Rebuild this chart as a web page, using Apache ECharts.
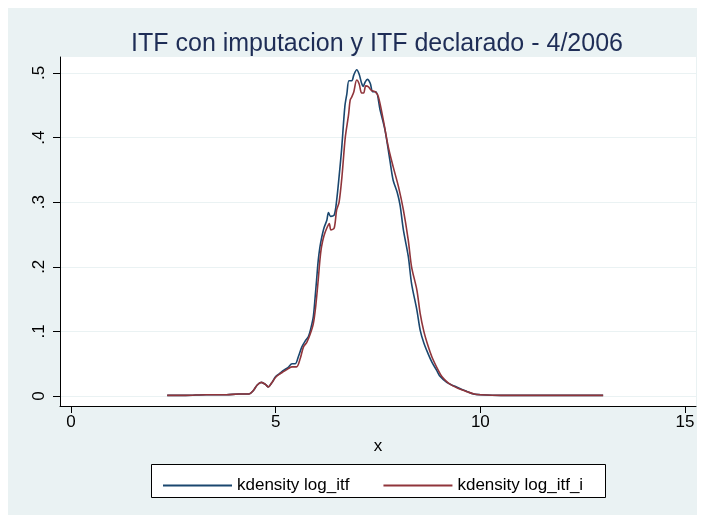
<!DOCTYPE html>
<html>
<head>
<meta charset="utf-8">
<script src="https://cdn.jsdelivr.net/npm/echarts@6/dist/echarts.min.js"></script>
<style>
  html, body { margin: 0; padding: 0; background: #ffffff; }
  #chart { width: 703px; height: 515px; }
</style>
</head>
<body>
<div id="chart"></div>
<script>
// Kernel density estimates of log household income (two variants)
const logItfX = [2.35, 2.8, 3.3, 3.8, 4.1, 4.35, 4.45, 4.55, 4.65, 4.75, 4.82, 4.9, 5.0, 5.1, 5.2, 5.3, 5.4, 5.48, 5.56, 5.64,
  5.72, 5.8, 5.86, 5.92, 5.96, 6.0, 6.04, 6.08, 6.12, 6.18, 6.25, 6.29, 6.34, 6.43, 6.49, 6.55, 6.61, 6.69, 6.74, 6.79,
  6.86, 6.91, 6.98, 7.04, 7.10, 7.14, 7.18, 7.24, 7.31, 7.37, 7.45, 7.55, 7.67, 7.79, 7.87, 7.97, 8.04, 8.12, 8.24, 8.32,
  8.45, 8.53, 8.62, 8.72, 8.82, 8.93, 9.02, 9.18, 9.3, 9.42, 9.55, 9.67, 9.83, 10.0, 10.5, 11, 11.5, 12, 12.5, 13.0];
const logItfY = [0.001, 0.001, 0.002, 0.002, 0.003, 0.003, 0.008, 0.017, 0.021, 0.018, 0.014, 0.02, 0.03, 0.035, 0.04, 0.044, 0.05, 0.05, 0.062, 0.076,
  0.085, 0.092, 0.105, 0.123, 0.15, 0.18, 0.21, 0.23, 0.244, 0.26, 0.272, 0.284, 0.278, 0.28, 0.303, 0.34, 0.381, 0.448, 0.468, 0.488,
  0.488, 0.497, 0.505, 0.498, 0.484, 0.479, 0.485, 0.49, 0.484, 0.471, 0.471, 0.443, 0.412, 0.365, 0.334, 0.315, 0.295, 0.257, 0.216, 0.174,
  0.133, 0.102, 0.082, 0.066, 0.052, 0.040, 0.030, 0.021, 0.017, 0.014, 0.010, 0.007, 0.003, 0.002, 0.001, 0.001, 0.001, 0.001, 0.001, 0.001];

const logItfIX = [2.35, 2.8, 3.3, 3.8, 4.1, 4.35, 4.45, 4.55, 4.65, 4.75, 4.82, 4.9, 5.0, 5.1, 5.2, 5.3, 5.4, 5.51, 5.6, 5.68,
  5.76, 5.84, 5.92, 5.98, 6.04, 6.08, 6.12, 6.18, 6.25, 6.31, 6.35, 6.43, 6.49, 6.55, 6.62, 6.70, 6.78, 6.82, 6.86, 6.91,
  6.98, 7.04, 7.10, 7.15, 7.20, 7.26, 7.34, 7.43, 7.51, 7.63, 7.75, 7.87, 8.0, 8.12, 8.24, 8.32, 8.45, 8.53, 8.62, 8.72,
  8.82, 8.97, 9.06, 9.2, 9.32, 9.45, 9.58, 9.7, 9.85, 10.0, 10.5, 11, 11.5, 12, 12.5, 13.0];
const logItfIY = [0.001, 0.001, 0.002, 0.002, 0.003, 0.003, 0.008, 0.017, 0.021, 0.018, 0.014, 0.02, 0.029, 0.034, 0.038, 0.042, 0.045, 0.045, 0.058, 0.076,
  0.083, 0.095, 0.112, 0.14, 0.18, 0.21, 0.231, 0.248, 0.26, 0.267, 0.257, 0.26, 0.288, 0.30, 0.34, 0.40, 0.435, 0.458, 0.463, 0.471,
  0.489, 0.483, 0.469, 0.469, 0.480, 0.479, 0.473, 0.471, 0.463, 0.427, 0.386, 0.355, 0.324, 0.288, 0.241, 0.2, 0.164, 0.128, 0.1, 0.078,
  0.06, 0.040, 0.030, 0.021, 0.016, 0.012, 0.009, 0.006, 0.003, 0.002, 0.001, 0.001, 0.001, 0.001, 0.001, 0.001];

const xTicks = [0, 5, 10, 15];
const yTicks = [0, 0.1, 0.2, 0.3, 0.4, 0.5];
const seriesNames = ['kdensity log_itf', 'kdensity log_itf_i'];
const titleText = 'ITF con imputacion y ITF declarado - 4/2006';

const zip = (xs, ys) => xs.map((x, i) => [x, ys[i]]);
const stataNum = v => (v === 0 ? '0' : String(+v.toFixed(2)).replace(/^0\./, '.'));

const FONT = 'Liberation Sans, Arial, sans-serif';
const BG = '#EAF2F3';

const chart = echarts.init(document.getElementById('chart'), null, { renderer: 'canvas' });
chart.setOption({
  backgroundColor: '#ffffff',
  animation: false,
  graphic: [
    { type: 'rect', z: -10, silent: true, shape: { x: 8, y: 8, width: 689, height: 507 }, style: { fill: BG } },
    { type: 'rect', z: 0, silent: true, shape: { x: 151.5, y: 464.5, width: 454, height: 33 },
      style: { fill: '#ffffff', stroke: '#000000', lineWidth: 1 } }
  ],
  title: {
    text: titleText,
    left: 372, top: 27, textAlign: 'center',
    textStyle: { fontFamily: FONT, fontSize: 25, fontWeight: 'normal', color: '#1E2D56' }
  },
  legend: {
    left: 158, top: 472, z: 5,
    icon: 'rect', itemWidth: 69, itemHeight: 2, itemGap: 34,
    textStyle: { fontFamily: FONT, fontSize: 17, color: '#000' },
    data: seriesNames
  },
  grid: { left: 60, top: 57, right: 7, bottom: 109, show: true, backgroundColor: '#ffffff', borderWidth: 0 },
  xAxis: {
    type: 'value', min: -0.269, max: 15.269,
    name: 'x', nameLocation: 'middle', nameGap: 32,
    nameTextStyle: { fontFamily: FONT, fontSize: 17, color: '#000' },
    axisLine: { show: true, onZero: false, lineStyle: { color: '#000', width: 1 } },
    axisTick: { show: true, customValues: xTicks, length: 7, lineStyle: { color: '#000' } },
    axisLabel: { customValues: xTicks, fontFamily: FONT, fontSize: 17, color: '#000', margin: 8, formatter: v => stataNum(v) },
    splitLine: { show: false }
  },
  yAxis: {
    type: 'value', min: -0.0155, max: 0.5247,
    axisLine: { show: true, onZero: false, lineStyle: { color: '#000', width: 1 } },
    axisTick: { show: true, customValues: yTicks, length: 7, lineStyle: { color: '#000' } },
    axisLabel: { customValues: yTicks, rotate: 90, fontFamily: FONT, fontSize: 17, color: '#000', margin: 12, formatter: v => stataNum(v) },
    splitLine: { show: true, lineStyle: { color: BG, width: 1 } }
  },
  series: [
    {
      name: seriesNames[0], type: 'line', data: zip(logItfX, logItfY),
      showSymbol: false, symbol: 'none', smooth: 0.3,
      lineStyle: { color: '#1A476F', width: 1.6 }, itemStyle: { color: '#1A476F' }
    },
    {
      name: seriesNames[1], type: 'line', data: zip(logItfIX, logItfIY),
      showSymbol: false, symbol: 'none', smooth: 0.3,
      lineStyle: { color: '#90353B', width: 1.6 }, itemStyle: { color: '#90353B' }
    }
  ]
});
</script>
</body>
</html>
